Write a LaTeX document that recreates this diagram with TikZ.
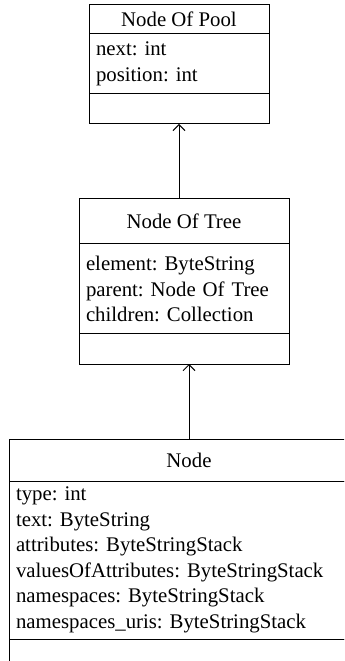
\documentclass[tikz,border=0pt]{standalone}
\usepackage{fontspec}
\setmainfont{Liberation Serif}
\usetikzlibrary{arrows.meta}
\tikzset{
  umlpart/.style={draw, rectangle, line width=0.5pt, inner sep=0pt, outer sep=0pt,
    font=\fontsize{10.4}{12.75}\selectfont},
  umlattr/.style={umlpart, align=left, anchor=north},
  inherit/.style={line width=0.5pt, -{Straight Barb[length=3pt,width=6pt]}}
}
\frenchspacing

\begin{document}
\frenchspacing
\begin{tikzpicture}
        \useasboundingbox (0cm, 0cm) rectangle (6.045095cm, -11.615720cm);
        \clip (0cm, 0cm) rectangle (6.045095cm, -11.615720cm);
        % Node Of Pool
        \node (pool) [umlpart, minimum width=3.163131cm, minimum height=0.509616cm] at (3.145558cm, -0.342674cm) {Node Of Pool};
        \node (poolattr) [umlattr, minimum width=3.163131cm, minimum height=1.054377cm, text width=2.917cm] at (pool.south) {next: int\\position: int};
        \node (poolops) [umlpart, anchor=north, minimum width=3.163131cm, minimum height=0.527189cm] at (poolattr.south) {};
        % Node Of Tree
        \node (tree) [umlpart, minimum width=3.690320cm, minimum height=0.790783cm] at (3.233423cm, -3.892409cm) {Node Of Tree};
        \node (treeattr) [umlattr, minimum width=3.690320cm, minimum height=1.581566cm, text width=3.444cm] at (tree.south) {element: ByteString\\parent: Node Of Tree\\children: Collection};
        \node (treeops) [umlpart, anchor=north, minimum width=3.690320cm, minimum height=0.527189cm] at (treeattr.south) {};
        % Node
        \node (nd) [umlpart, minimum width=6.326262cm, minimum height=0.738065cm] at (3.321288cm, -8.083557cm) {Node};
        \node (ndattr) [umlattr, minimum width=6.326262cm, minimum height=2.776526cm, text width=6.080cm] at (nd.south) {type: int\\text: ByteString\\attributes: ByteStringStack\\valuesOfAttributes: ByteStringStack\\namespaces: ByteStringStack\\namespaces\_uris: ByteStringStack};
        \node (ndops) [umlpart, anchor=north, minimum width=6.326262cm, minimum height=0.527189cm] at (ndattr.south) {};
        \draw [inherit] (tree.north -| poolops.south) -- (poolops.south);
        \draw [inherit] (nd.north) -- (nd.north |- treeops.south);
\end{tikzpicture}
\end{document}
